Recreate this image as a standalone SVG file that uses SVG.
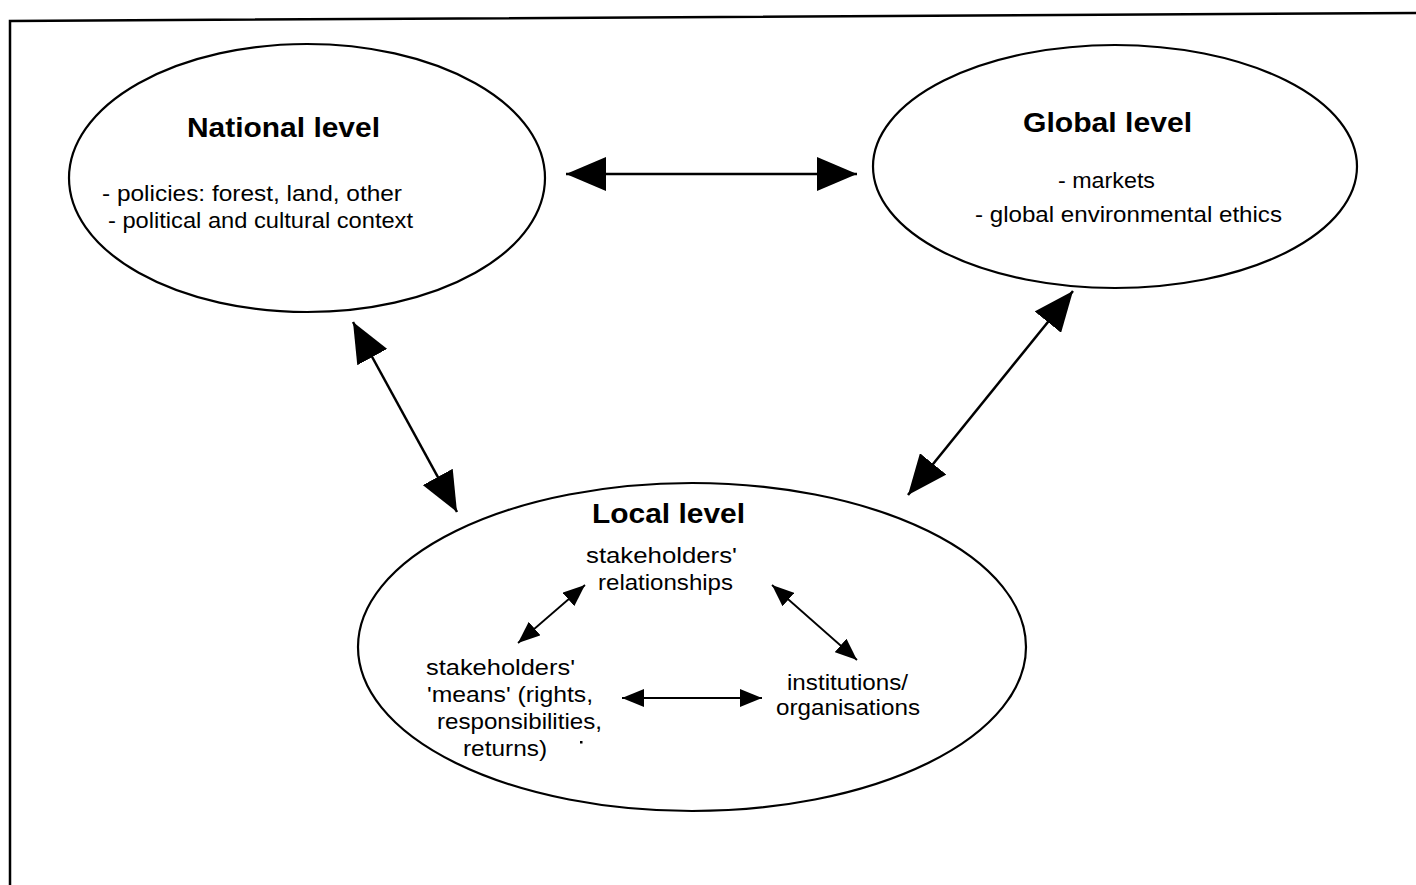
<svg xmlns="http://www.w3.org/2000/svg" width="1416" height="885" viewBox="0 0 1416 885">
  <style>
    .frame { fill: none; stroke: #000; stroke-width: 2.5; }
    .node { fill: #fff; stroke: #000; stroke-width: 2.2; }
    .title { font-family: "Liberation Sans", Arial, sans-serif; font-weight: bold; font-size: 27px; fill: #000; }
    .body { font-family: "Liberation Sans", Arial, sans-serif; font-size: 22px; fill: #000; }
    .conn { fill: none; stroke: #000; stroke-width: 2.5; }
    .conn-s { fill: none; stroke: #000; stroke-width: 1.8; }
  </style>
  <defs>
    <marker id="big" viewBox="0 0 40 34" refX="40" refY="17" markerWidth="40" markerHeight="34" markerUnits="userSpaceOnUse" orient="auto-start-reverse">
      <path d="M0,0 L40,17 L0,34 Z" fill="#000"/>
    </marker>
    <marker id="small" viewBox="0 0 22 18" refX="22" refY="9" markerWidth="22" markerHeight="18" markerUnits="userSpaceOnUse" orient="auto-start-reverse">
      <path d="M0,0 L22,9 L0,18 Z" fill="#000"/>
    </marker>
  </defs>

  <g id="frame">
    <polyline class="frame" points="10,885 10,21 1416,13"/>
  </g>

  <g id="national">
    <ellipse class="node" cx="307" cy="178" rx="238" ry="134"/>
    <text class="title" x="187" y="137" textLength="193" lengthAdjust="spacingAndGlyphs">National level</text>
    <text class="body" x="102" y="201" textLength="300" lengthAdjust="spacingAndGlyphs">- policies: forest, land, other</text>
    <text class="body" x="108" y="228" textLength="305" lengthAdjust="spacingAndGlyphs">- political and cultural context</text>
  </g>

  <g id="global">
    <ellipse class="node" cx="1115" cy="166.5" rx="242" ry="121.5"/>
    <text class="title" x="1023" y="132" textLength="169" lengthAdjust="spacingAndGlyphs">Global level</text>
    <text class="body" x="1058" y="188" textLength="97" lengthAdjust="spacingAndGlyphs">- markets</text>
    <text class="body" x="975" y="222" textLength="307" lengthAdjust="spacingAndGlyphs">- global environmental ethics</text>
  </g>

  <g id="local">
    <ellipse class="node" cx="692" cy="647" rx="334" ry="164"/>
    <text class="title" x="592" y="523" textLength="153" lengthAdjust="spacingAndGlyphs">Local level</text>
  </g>

  <g id="relationships">
    <text class="body" x="586" y="563" textLength="151" lengthAdjust="spacingAndGlyphs">stakeholders'</text>
    <text class="body" x="598" y="590" textLength="135" lengthAdjust="spacingAndGlyphs">relationships</text>
  </g>

  <g id="means">
    <text class="body" x="426" y="675" textLength="149" lengthAdjust="spacingAndGlyphs">stakeholders'</text>
    <text class="body" x="427" y="702" textLength="166" lengthAdjust="spacingAndGlyphs">'means' (rights,</text>
    <text class="body" x="437" y="729" textLength="165" lengthAdjust="spacingAndGlyphs">responsibilities,</text>
    <text class="body" x="463" y="756" textLength="84" lengthAdjust="spacingAndGlyphs">returns)</text>
    <rect x="580" y="741" width="2.5" height="2.5" fill="#000"/>
  </g>

  <g id="institutions">
    <text class="body" x="787" y="690" textLength="121" lengthAdjust="spacingAndGlyphs">institutions/</text>
    <text class="body" x="776" y="715" textLength="144" lengthAdjust="spacingAndGlyphs">organisations</text>
  </g>

  <g id="connectors">
    <line class="conn" x1="566" y1="174" x2="857" y2="174" marker-start="url(#big)" marker-end="url(#big)"/>
    <line class="conn" x1="353" y1="322" x2="457" y2="512" marker-start="url(#big)" marker-end="url(#big)"/>
    <line class="conn" x1="1073" y1="291" x2="908" y2="495" marker-start="url(#big)" marker-end="url(#big)"/>
    <line class="conn-s" x1="585" y1="585" x2="518" y2="643" marker-start="url(#small)" marker-end="url(#small)"/>
    <line class="conn-s" x1="772" y1="585" x2="857" y2="660" marker-start="url(#small)" marker-end="url(#small)"/>
    <line class="conn-s" x1="622" y1="698" x2="762" y2="698" marker-start="url(#small)" marker-end="url(#small)"/>
  </g>
</svg>
